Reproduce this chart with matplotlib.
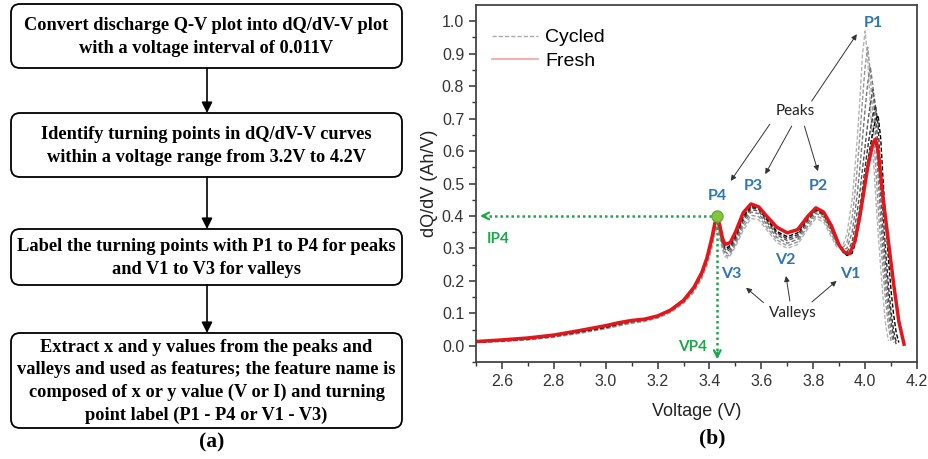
import numpy as np
import matplotlib
matplotlib.use("Agg")
import matplotlib.pyplot as plt
from matplotlib.patches import FancyBboxPatch
from matplotlib.lines import Line2D

nan = np.nan

# flowchart text (panel a)
steps = [
    "Convert discharge Q-V plot into dQ/dV-V plot\nwith a voltage interval of 0.011V",
    "Identify turning points in dQ/dV-V curves\nwithin a voltage range from 3.2V to 4.2V",
    "Label the turning points with P1 to P4 for peaks\nand V1 to V3 for valleys",
    "Extract x and y values from the peaks and\nvalleys and used as features; the feature name is\n"
    "composed of x or y value (V or I) and turning\npoint label (P1 - P4 or V1 - V3)",
]

# fresh cell dQ/dV curve
fresh_v = [2.50, 2.60, 2.70, 2.80, 2.90, 3.00, 3.05, 3.10, 3.15, 3.20,
           3.25, 3.30, 3.34, 3.37, 3.39, 3.41, 3.42, 3.43, 3.44, 3.45,
           3.46, 3.48, 3.50, 3.53, 3.56, 3.59, 3.62, 3.66, 3.70, 3.74,
           3.78, 3.81, 3.84, 3.87, 3.90, 3.92, 3.94, 3.96, 3.98, 4.00,
           4.01, 4.03, 4.04, 4.05, 4.07, 4.09, 4.11, 4.13, 4.15]
fresh_i = [0.013, 0.018, 0.024, 0.033, 0.047, 0.062, 0.071, 0.078, 0.082, 0.092,
           0.110, 0.140, 0.180, 0.225, 0.270, 0.335, 0.375, 0.400, 0.370, 0.332,
           0.312, 0.318, 0.350, 0.410, 0.437, 0.428, 0.400, 0.365, 0.348, 0.358,
           0.400, 0.425, 0.412, 0.370, 0.310, 0.288, 0.284, 0.320, 0.400, 0.500,
           0.550, 0.625, 0.636, 0.600, 0.450, 0.320, 0.190, 0.075, 0.005]

# cycled cell curves, shared voltage grid
cyc_v = [2.50, 2.60, 2.70, 2.80, 2.90, 3.00, 3.05, 3.10, 3.15, 3.20,
         3.25, 3.30, 3.34, 3.37, 3.39, 3.41, 3.42, 3.43, 3.44, 3.45,
         3.46, 3.47, 3.48, 3.50, 3.53, 3.56, 3.59, 3.62, 3.66, 3.70,
         3.74, 3.78, 3.81, 3.84, 3.87, 3.89, 3.91, 3.93, 3.95, 3.96,
         3.97, 3.98, 3.99, 4.00, 4.01, 4.02, 4.03, 4.04, 4.05, 4.06,
         4.07, 4.08, 4.09, 4.10, 4.11, 4.12, 4.13, 4.14, 4.15]
cyc1_i = [0.010, 0.013, 0.018, 0.026, 0.038, 0.052, 0.061, 0.069, 0.075, 0.085,
          0.102, 0.130, 0.165, 0.205, 0.245, 0.300, 0.340, 0.360, 0.330, 0.295,
          0.275, 0.270, 0.278, 0.305, 0.355, 0.392, 0.388, 0.358, 0.318, 0.300,
          0.312, 0.362, 0.392, 0.382, 0.335, 0.305, 0.300, 0.345, 0.450, 0.540,
          0.640, 0.760, 0.900, 0.970, 0.880, 0.740, 0.600, 0.470, 0.350, 0.240,
          0.140, 0.060, 0.015, nan, nan, nan, nan, nan, nan]
cyc2_i = [0.011, 0.014, 0.019, 0.027, 0.039, 0.053, 0.062, 0.070, 0.076, 0.086,
          0.104, 0.132, 0.168, 0.210, 0.252, 0.310, 0.350, 0.372, 0.340, 0.303,
          0.282, 0.276, 0.283, 0.312, 0.365, 0.402, 0.398, 0.366, 0.326, 0.308,
          0.320, 0.370, 0.400, 0.390, 0.345, 0.312, 0.298, 0.318, 0.395, 0.465,
          0.550, 0.650, 0.760, 0.860, 0.920, 0.840, 0.700, 0.560, 0.430, 0.320,
          0.220, 0.130, 0.060, 0.015, nan, nan, nan, nan, nan]
cyc3_i = [0.011, 0.014, 0.020, 0.028, 0.041, 0.055, 0.064, 0.072, 0.078, 0.088,
          0.106, 0.135, 0.172, 0.215, 0.258, 0.318, 0.358, 0.380, 0.348, 0.310,
          0.290, 0.284, 0.290, 0.320, 0.375, 0.412, 0.407, 0.375, 0.334, 0.316,
          0.328, 0.378, 0.408, 0.397, 0.352, 0.318, 0.296, 0.300, 0.350, 0.405,
          0.470, 0.550, 0.640, 0.730, 0.810, 0.860, 0.800, 0.660, 0.520, 0.390,
          0.280, 0.180, 0.100, 0.040, 0.010, nan, nan, nan, nan]
cyc4_i = [0.011, 0.015, 0.020, 0.029, 0.042, 0.056, 0.066, 0.074, 0.079, 0.089,
          0.108, 0.137, 0.175, 0.220, 0.263, 0.325, 0.365, 0.388, 0.356, 0.318,
          0.297, 0.292, 0.298, 0.328, 0.385, 0.420, 0.415, 0.383, 0.342, 0.324,
          0.336, 0.386, 0.414, 0.403, 0.358, 0.322, 0.294, 0.288, 0.320, 0.365,
          0.415, 0.475, 0.545, 0.615, 0.685, 0.745, 0.790, 0.740, 0.600, 0.460,
          0.340, 0.235, 0.145, 0.075, 0.025, 0.005, nan, nan, nan]
cyc5_i = [0.012, 0.016, 0.021, 0.030, 0.043, 0.057, 0.067, 0.075, 0.080, 0.090,
          0.109, 0.138, 0.177, 0.222, 0.266, 0.330, 0.370, 0.393, 0.362, 0.323,
          0.302, 0.298, 0.305, 0.335, 0.392, 0.426, 0.420, 0.389, 0.348, 0.330,
          0.342, 0.392, 0.418, 0.406, 0.362, 0.325, 0.295, 0.282, 0.300, 0.335,
          0.375, 0.425, 0.485, 0.550, 0.610, 0.665, 0.710, 0.740, 0.680, 0.530,
          0.400, 0.285, 0.185, 0.105, 0.045, 0.012, nan, nan, nan]
cyc6_i = [0.012, 0.016, 0.022, 0.031, 0.044, 0.058, 0.068, 0.076, 0.081, 0.091,
          0.110, 0.139, 0.178, 0.223, 0.268, 0.333, 0.373, 0.396, 0.365, 0.326,
          0.306, 0.303, 0.310, 0.340, 0.398, 0.430, 0.424, 0.393, 0.352, 0.336,
          0.348, 0.396, 0.420, 0.408, 0.364, 0.326, 0.294, 0.278, 0.285, 0.310,
          0.345, 0.390, 0.445, 0.505, 0.565, 0.615, 0.660, 0.695, 0.710, 0.640,
          0.500, 0.375, 0.265, 0.170, 0.095, 0.040, 0.010, nan, nan]
cycled = [cyc1_i, cyc2_i, cyc3_i, cyc4_i, cyc5_i, cyc6_i]
cyc_colors = ["#b4b4b4", "#969696", "#787878", "#555555", "#2f2f2f", "#000000"]

# turning point labels (x, y in data units)
peak_labels = {"P1": (4.032, 0.995), "P2": (3.820, 0.492),
               "P3": (3.569, 0.492), "P4": (3.430, 0.462)}
valley_labels = {"V1": (3.942, 0.221), "V2": (3.691, 0.264), "V3": (3.486, 0.221)}
p4_v, p4_i = 3.43, 0.40

blue = "#2e75b6"
green = "#1fa64a"

fig = plt.figure(figsize=(9.29, 4.59), dpi=100)

# panel (a): flowchart drawn in pixel coordinates
ax0 = fig.add_axes([0, 0, 1, 1])
ax0.set_xlim(0, 929)
ax0.set_ylim(459, 0)
ax0.axis("off")

boxes = [(4, 68), (113, 177), (229, 285), (333, 428)]
for (top, bottom), txt in zip(boxes, steps):
    ax0.add_patch(FancyBboxPatch((11, top), 391, bottom - top,
                                 boxstyle="round,pad=0,rounding_size=9",
                                 fc="white", ec="black", lw=1.3))
    ax0.text(206.5, (top + bottom) / 2 + 1, txt, ha="center", va="center",
             fontsize=13.2, fontweight="bold", family="Liberation Serif",
             linespacing=1.42)
for i in range(3):
    ax0.annotate("", xy=(207, boxes[i + 1][0]), xytext=(207, boxes[i][1]),
                 arrowprops=dict(arrowstyle="-|>", color="black", lw=1.2,
                                 mutation_scale=16, shrinkA=0, shrinkB=0))
ax0.text(212, 442, "(a)", ha="center", va="center", fontsize=15.5,
         fontweight="bold", family="Liberation Serif")
ax0.text(712, 438, "(b)", ha="center", va="center", fontsize=15.5,
         fontweight="bold", family="Liberation Serif")

# panel (b): dQ/dV curves
ax = fig.add_axes([476 / 929, 1 - 362 / 459, 441 / 929, 357 / 459])
for ii, col in zip(cycled, cyc_colors):
    ax.plot(cyc_v, ii, color=col, lw=1.0, ls=(0, (3, 1.5)))
ax.plot(fresh_v, fresh_i, color="#e3161b", lw=2.5)

ax.set_xlim(2.5, 4.2)
ax.set_ylim(-0.05, 1.05)
ax.set_xticks(np.arange(2.6, 4.21, 0.2))
ax.set_xticks(np.arange(2.5, 4.21, 0.1), minor=True)
ax.set_yticks(np.arange(0, 1.01, 0.1))
ax.set_yticks(np.arange(-0.05, 1.05, 0.05), minor=True)
ax.xaxis.set_major_formatter(matplotlib.ticker.FormatStrFormatter("%.1f"))
ax.yaxis.set_major_formatter(matplotlib.ticker.FormatStrFormatter("%.1f"))
ax.tick_params(which="both", direction="out", colors="#333333",
               labelsize=11.5, top=False, right=False)
ax.tick_params(which="major", length=5, width=1.1)
ax.tick_params(which="minor", length=3, width=1.0)
for lab in ax.get_xticklabels() + ax.get_yticklabels():
    lab.set_family("Liberation Sans")
for sp in ax.spines.values():
    sp.set_color("#444444")
    sp.set_linewidth(1.3)
ax.set_xlabel("Voltage (V)", fontsize=13, family="Liberation Sans",
              color="#222222", labelpad=10)
ax.set_ylabel("dQ/dV (Ah/V)", fontsize=13, family="Liberation Sans",
              color="#222222", labelpad=3)

handles = [Line2D([], [], color="#aaaaaa", lw=1.0, ls=(0, (3, 1.5))),
           Line2D([], [], color="#f2a0a0", lw=1.2)]
ax.legend(handles, ["Cycled", "Fresh"], loc="upper left",
          bbox_to_anchor=(0.018, 0.955), frameon=False, handlelength=2.4,
          handletextpad=0.35, labelspacing=0.28, borderaxespad=0,
          prop={"family": "Liberation Sans", "size": 14})

# P4 guide lines
ax.plot([p4_v, 2.53], [p4_i, p4_i], color=green, lw=1.8, ls=(0, (1, 1.2)))
ax.plot([p4_v, p4_v], [p4_i, -0.03], color=green, lw=1.8, ls=(0, (1, 1.2)))
ax.annotate("", xy=(2.515, p4_i), xytext=(2.535, p4_i),
            arrowprops=dict(arrowstyle="->", color=green, lw=1.6,
                            mutation_scale=12, shrinkA=0, shrinkB=0))
ax.annotate("", xy=(p4_v, -0.042), xytext=(p4_v, -0.02),
            arrowprops=dict(arrowstyle="->", color=green, lw=1.6,
                            mutation_scale=12, shrinkA=0, shrinkB=0))
ax.plot([p4_v], [p4_i], "o", ms=8, color="#86c440", mec="#6aad2e", zorder=5)
ax.text(2.541, 0.328, "IP4", color=green, fontsize=11, fontweight="bold",
        family="Lato", ha="left", va="center")
ax.text(3.389, -0.005, "VP4", color=green, fontsize=11, fontweight="bold",
        family="Lato", ha="right", va="center")

for name, (x, y) in list(peak_labels.items()) + list(valley_labels.items()):
    ax.text(x, y, name, color=blue, fontsize=11.5, fontweight="bold",
            family="Lato", ha="center", va="center")

ax.text(3.730, 0.723, "Peaks", fontsize=11, family="Lato", color="#222222",
        ha="center", va="center")
ax.text(3.723, 0.102, "Valleys", fontsize=11, family="Lato", color="#222222",
        ha="center", va="center")
arrows = [((3.794, 0.754), (3.968, 0.960)), ((3.633, 0.683), (3.482, 0.508)),
          ((3.717, 0.677), (3.615, 0.529)), ((3.766, 0.677), (3.818, 0.538)),
          ((3.608, 0.133), (3.541, 0.179)), ((3.710, 0.138), (3.695, 0.215)),
          ((3.795, 0.135), (3.890, 0.200))]
for start, end in arrows:
    ax.annotate("", xy=end, xytext=start,
                arrowprops=dict(arrowstyle="-|>", color="#333333", lw=0.7,
                                mutation_scale=8, shrinkA=0, shrinkB=0))

fig.savefig("out.png", dpi=100)
